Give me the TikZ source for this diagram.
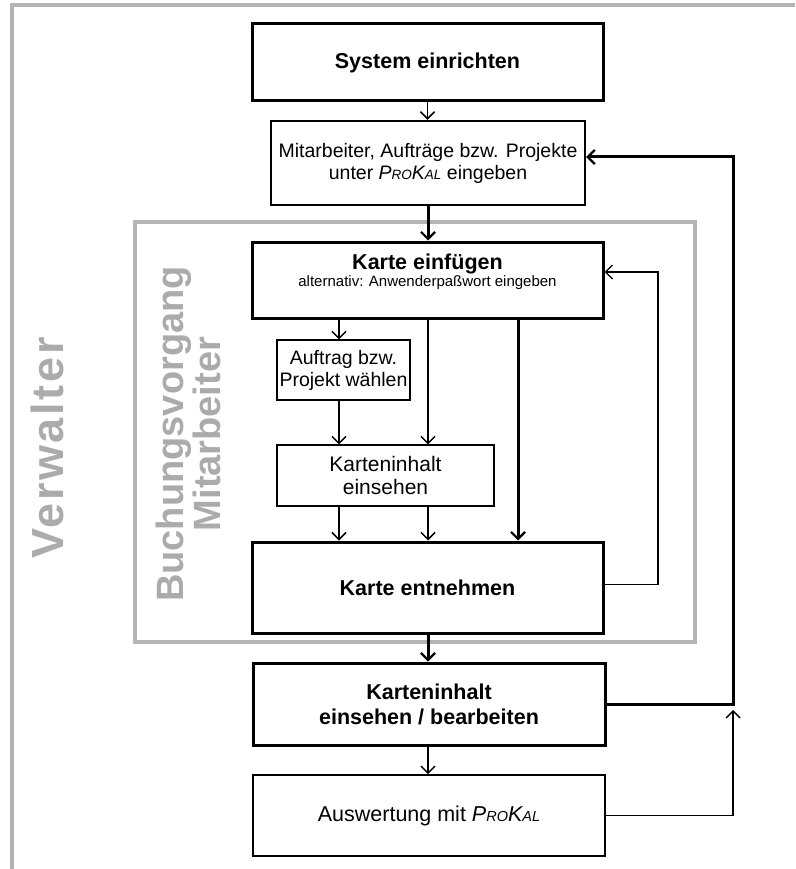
\documentclass[tikz,border=0pt]{standalone}
\usepackage{fontspec}
\setmainfont{Liberation Sans}
\newfontfamily\spacedfont[LetterSpace=6]{Liberation Sans}
\usetikzlibrary{arrows.meta}
\definecolor{framegray}{HTML}{B4B4B4}
\definecolor{labelgray}{HTML}{ABABAB}
\newcommand{\ProKalName}{{\itshape P{\fontsize{13.5}{13.5}\selectfont RO}K{\fontsize{13.5}{13.5}\selectfont AL}}}
\newcommand{\ProKalBig}{{\itshape P{\fontsize{14.5}{14.5}\selectfont RO}K{\fontsize{14.5}{14.5}\selectfont AL}}}
\tikzset{
  thickbox/.style={draw=black, line width=3pt, inner sep=0pt, align=center, font=\fontsize{21.5}{25}\selectfont\bfseries},
  midbox/.style={draw=black, line width=2.4pt, inner sep=0pt, align=center, font=\fontsize{19.5}{22}\selectfont},
  thinbox/.style={draw=black, line width=1.2pt, inner sep=0pt, align=center, font=\fontsize{19.5}{22}\selectfont},
  thinarr/.style={line width=1.5pt, -{Straight Barb[length=7pt,width=14pt,line width=1.5pt]}},
  thickarr/.style={line width=3pt, -{Straight Barb[length=7pt,width=14pt,line width=2.2pt]}},
  grayframe/.style={draw=framegray, line width=4pt},
}
\begin{document}
\begin{tikzpicture}[x=1pt,y=-1pt]
\useasboundingbox (0,0) rectangle (795,869);
% outer frame
\draw[grayframe] (12,869) -- (12,5) -- (795,5);
\node[rotate=90, text=labelgray, font=\fontsize{45}{45}\selectfont\bfseries\spacedfont] (verw) at (47,448) {Verwalter};
% inner frame
\draw[draw=framegray, line width=3.5pt] (135,222) rectangle (695,642);
\node[rotate=90, text=labelgray, align=center, font=\fontsize{38}{37}\selectfont\bfseries] (buch) at (188,434) {Buchungsvorgang\\Mitarbeiter};
% columns
\coordinate (c1) at (339,0);
\coordinate (c2) at (428,0);
\coordinate (c3) at (518,0);
% boxes
\node[thickbox, minimum width=351pt, minimum height=77pt] (sys) at (427.5,62.5) {System einrichten};
\node[midbox, minimum width=314pt, minimum height=84pt] (mit) at (428,163) {Mitarbeiter, Aufträge bzw. Projekte\\unter \ProKalName{} eingeben};
\node[thickbox, minimum width=351pt, minimum height=76pt] (kein) at (427.5,280) {};
\node[anchor=north, align=center, inner sep=0pt] (keintext) at ([yshift=-13pt]kein.north) {{\fontsize{21.5}{22}\selectfont\bfseries Karte einfügen}\\[1pt]{\fontsize{15}{16}\selectfont alternativ: Anwenderpaßwort eingeben}};
\node[thinbox, minimum width=133pt, minimum height=60pt] (auf) at (343.5,370) {Auftrag bzw.\\Projekt wählen};
\node[thinbox, minimum width=217pt, minimum height=61pt, font=\fontsize{21}{23}\selectfont] (ksee) at (385.5,475.5) {Karteninhalt\\einsehen};
\node[thickbox, minimum width=351pt, minimum height=91pt] (kent) at (427.5,587.5) {Karte entnehmen};
\node[thickbox, minimum width=352pt, minimum height=82pt] (bear) at (429,704) {Karteninhalt\\einsehen / bearbeiten};
\node[draw=black, line width=1.6pt, inner sep=0pt, align=center, font=\fontsize{21.5}{24}\selectfont, minimum width=352pt, minimum height=81pt] (ausw) at (429,815.5) {Auswertung mit \ProKalBig};
% connectors
\draw[thinarr] (sys.south) -- (mit.north -| sys.south);
\draw[thickarr] (mit.south -| c2) -- (kein.north -| c2);
\draw[thinarr] (kein.south -| c1) -- (auf.north -| c1);
\draw[thinarr] (kein.south -| c2) -- (ksee.north -| c2);
\draw[thickarr] (kein.south -| c3) -- (kent.north -| c3);
\draw[thinarr] (auf.south -| c1) -- (ksee.north -| c1);
\draw[thinarr] (ksee.south -| c1) -- (kent.north -| c1);
\draw[thinarr] (ksee.south -| c2) -- (kent.north -| c2);
\draw[thickarr] (kent.south -| c2) -- (bear.north -| c2);
\draw[thinarr] (bear.south -| c2) -- (ausw.north -| c2);
% loops
\coordinate (loopA) at (658,0);
\coordinate (loopB) at (733,0);
\draw[line width=1.2pt, -{Straight Barb[length=7pt,width=14pt,line width=1.4pt]}] ([yshift=3pt]kent.east) -| ([yshift=8pt]kein.east -| loopA) -- ([yshift=8pt]kein.east);
\draw[thickarr] (bear.east) -| ([yshift=6pt]mit.east -| loopB) -- ([yshift=6pt]mit.east);
\coordinate (junc) at (bear.east -| loopB);
\draw[line width=1.2pt, -{Straight Barb[length=7pt,width=14pt,line width=1.4pt]}] (ausw.east) -| ([yshift=-6pt]junc);
\end{tikzpicture}
\end{document}
